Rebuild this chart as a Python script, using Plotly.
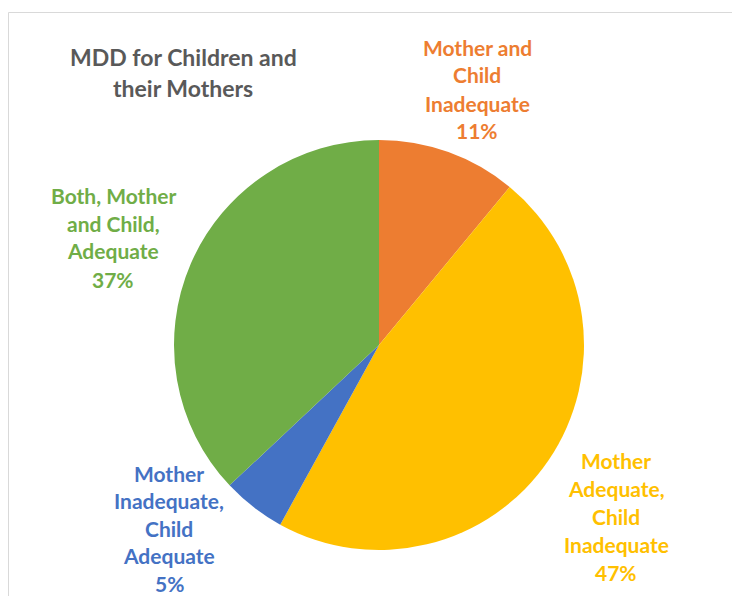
import plotly.graph_objects as go

categories = ["Mother and<br>Child<br>Inadequate",
              "Mother<br>Adequate,<br>Child<br>Inadequate",
              "Mother<br>Inadequate,<br>Child<br>Adequate",
              "Both, Mother<br>and Child,<br>Adequate"]
values = [11, 47, 5, 37]
colors = ["#ED7D31", "#FFC000", "#4472C4", "#70AD47"]
title_lines = ["MDD for Children and", "their Mothers"]

OFF = 8  # page body margin
W, H = 740 - OFF, 596 - OFF
cx, cy, r = 379 - OFF, 345 - OFF, 205

fig = go.Figure(go.Pie(
    labels=[c.replace("<br>", " ") for c in categories],
    values=values,
    sort=False,
    direction="clockwise",
    rotation=0,
    marker=dict(colors=colors, line=dict(width=0)),
    textinfo="none",
    hoverinfo="label+percent",
    showlegend=False,
    domain=dict(x=[(cx - r) / W, (cx + r) / W], y=[(H - cy - r) / H, (H - cy + r) / H]),
))

# label block positions (center x, first line y) in reference pixels
label_pos = [(477, 47), (616, 460), (169, 473), (113, 195)]
line_gap = 28
annotations = []
for cat, val, col, (lx, ly) in zip(categories, values, colors, label_pos):
    lines = cat.split("<br>") + [f"{val}%"]
    gap = line_gap if len(lines) < 5 or lx > 300 else 27.5
    for i, t in enumerate(lines):
        annotations.append(dict(
            x=(lx - OFF) / W, y=1 - (ly - OFF + i * gap) / H, xref="paper", yref="paper",
            text=f"<b>{t}</b>", showarrow=False, xanchor="center", yanchor="middle",
            font=dict(family="Lato", size=21, color=col)))
for i, t in enumerate(title_lines):
    annotations.append(dict(
        x=(183 - OFF) / W, y=1 - (57 - OFF + i * 31) / H, xref="paper", yref="paper",
        text=f"<b>{t}</b>", showarrow=False, xanchor="center", yanchor="middle",
        font=dict(family="Lato", size=23, color="#595959")))

fig.update_layout(
    width=W, height=H,
    margin=dict(l=0, r=0, t=0, b=0),
    paper_bgcolor="white",
    annotations=annotations,
    shapes=[dict(type="rect", xref="paper", yref="paper",
                 x0=0.5 / W, x1=1.05, y0=-0.05, y1=1 - (12.5 - OFF) / H,
                 line=dict(color="#D9D9D9", width=1))],
)

fig.write_html("out.html")
